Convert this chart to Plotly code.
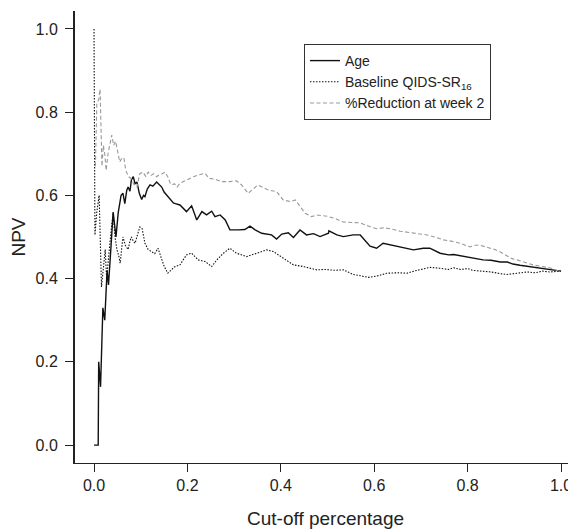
import plotly.graph_objects as go

# Age (solid)
age_x = [0.000, 0.009, 0.010, 0.014, 0.019, 0.023, 0.028, 0.031, 0.036, 0.041, 0.044, 0.047,
         0.052, 0.058, 0.062, 0.066, 0.070, 0.073, 0.077, 0.080, 0.084, 0.088, 0.092, 0.097,
         0.102, 0.106, 0.109, 0.114, 0.120, 0.126, 0.134, 0.140, 0.145, 0.150, 0.156, 0.163,
         0.170, 0.174, 0.184, 0.198, 0.209, 0.220, 0.231, 0.241, 0.252, 0.259, 0.270, 0.281,
         0.291, 0.309, 0.323, 0.334, 0.345, 0.359, 0.380, 0.391, 0.402, 0.416, 0.427, 0.441,
         0.455, 0.470, 0.484, 0.502, 0.503, 0.520, 0.534, 0.555, 0.570, 0.591, 0.605, 0.619,
         0.634, 0.655, 0.670, 0.684, 0.705, 0.719, 0.741, 0.759, 0.770, 0.785, 0.800, 0.815,
         0.833, 0.850, 0.870, 0.885, 0.897, 0.912, 0.925, 0.940, 0.955, 0.970, 0.985, 1.000]
age_y = [0.000, 0.000, 0.200, 0.140, 0.330, 0.300, 0.420, 0.385, 0.470, 0.560, 0.530, 0.500,
         0.560, 0.600, 0.605, 0.580, 0.612, 0.620, 0.610, 0.637, 0.645, 0.628, 0.632, 0.605,
         0.590, 0.600, 0.597, 0.615, 0.625, 0.622, 0.632, 0.626, 0.620, 0.608, 0.600, 0.590,
         0.582, 0.580, 0.577, 0.561, 0.575, 0.541, 0.561, 0.553, 0.562, 0.549, 0.553, 0.541,
         0.517, 0.517, 0.518, 0.526, 0.517, 0.509, 0.505, 0.495, 0.507, 0.510, 0.499, 0.517,
         0.505, 0.508, 0.501, 0.509, 0.515, 0.505, 0.501, 0.505, 0.505, 0.478, 0.473, 0.485,
         0.481, 0.477, 0.473, 0.469, 0.473, 0.473, 0.461, 0.457, 0.458, 0.455, 0.452, 0.450,
         0.445, 0.444, 0.440, 0.440, 0.435, 0.432, 0.430, 0.426, 0.425, 0.422, 0.420, 0.418]

# Baseline QIDS-SR16 (dotted)
qids_x = [0.000, 0.002, 0.006, 0.011, 0.016, 0.020, 0.024, 0.027, 0.031, 0.034, 0.038, 0.041,
          0.045, 0.049, 0.053, 0.056, 0.060, 0.062, 0.067, 0.073, 0.077, 0.080, 0.084, 0.088,
          0.093, 0.098, 0.103, 0.109, 0.116, 0.124, 0.130, 0.137, 0.143, 0.150, 0.158, 0.165,
          0.172, 0.184, 0.198, 0.209, 0.223, 0.238, 0.252, 0.263, 0.277, 0.291, 0.305, 0.327,
          0.348, 0.370, 0.384, 0.405, 0.427, 0.448, 0.462, 0.477, 0.495, 0.515, 0.534, 0.555,
          0.570, 0.587, 0.605, 0.627, 0.650, 0.670, 0.685, 0.698, 0.719, 0.740, 0.759, 0.770,
          0.785, 0.800, 0.810, 0.830, 0.850, 0.870, 0.884, 0.900, 0.915, 0.927, 0.945, 0.960,
          0.975, 0.990, 1.000]
qids_y = [1.000, 0.505, 0.560, 0.600, 0.380, 0.420, 0.470, 0.400, 0.460, 0.485, 0.530, 0.557,
          0.500, 0.470, 0.455, 0.437, 0.480, 0.500, 0.480, 0.470, 0.490, 0.500, 0.490, 0.485,
          0.505, 0.524, 0.520, 0.485, 0.470, 0.464, 0.460, 0.473, 0.455, 0.430, 0.413, 0.420,
          0.428, 0.433, 0.457, 0.461, 0.445, 0.441, 0.429, 0.445, 0.461, 0.473, 0.461, 0.453,
          0.461, 0.469, 0.465, 0.449, 0.433, 0.429, 0.425, 0.421, 0.422, 0.420, 0.421, 0.410,
          0.407, 0.403, 0.406, 0.413, 0.414, 0.413, 0.418, 0.422, 0.427, 0.425, 0.422, 0.426,
          0.422, 0.424, 0.420, 0.418, 0.416, 0.412, 0.410, 0.412, 0.415, 0.416, 0.414, 0.418,
          0.416, 0.417, 0.418]

# %Reduction at week 2 (dashed)
red_x = [0.003, 0.006, 0.010, 0.013, 0.017, 0.020, 0.023, 0.026, 0.030, 0.034, 0.038, 0.042,
         0.046, 0.050, 0.055, 0.060, 0.064, 0.068, 0.074, 0.080, 0.086, 0.092, 0.098, 0.105,
         0.111, 0.116, 0.122, 0.128, 0.134, 0.140, 0.146, 0.152, 0.158, 0.163, 0.167, 0.172,
         0.178, 0.184, 0.198, 0.213, 0.224, 0.238, 0.246, 0.259, 0.273, 0.291, 0.305, 0.316,
         0.330, 0.351, 0.373, 0.391, 0.405, 0.420, 0.431, 0.452, 0.466, 0.477, 0.499, 0.515,
         0.533, 0.550, 0.570, 0.590, 0.605, 0.620, 0.634, 0.655, 0.677, 0.695, 0.713, 0.730,
         0.748, 0.765, 0.784, 0.805, 0.815, 0.827, 0.845, 0.858, 0.870, 0.885, 0.895, 0.906,
         0.920, 0.930, 0.940, 0.955, 0.965, 0.976, 0.990, 1.000]
red_y = [0.670, 0.820, 0.830, 0.855, 0.670, 0.720, 0.700, 0.660, 0.700, 0.720, 0.745, 0.720,
         0.730, 0.710, 0.680, 0.690, 0.690, 0.660, 0.645, 0.640, 0.625, 0.620, 0.652, 0.656,
         0.645, 0.656, 0.648, 0.652, 0.645, 0.650, 0.652, 0.656, 0.645, 0.630, 0.625, 0.628,
         0.620, 0.629, 0.637, 0.645, 0.649, 0.653, 0.641, 0.639, 0.633, 0.633, 0.635, 0.625,
         0.605, 0.625, 0.613, 0.609, 0.589, 0.585, 0.589, 0.557, 0.549, 0.553, 0.550, 0.545,
         0.536, 0.535, 0.534, 0.525, 0.520, 0.522, 0.520, 0.514, 0.510, 0.507, 0.505, 0.500,
         0.493, 0.490, 0.485, 0.476, 0.480, 0.480, 0.474, 0.470, 0.464, 0.455, 0.448, 0.445,
         0.440, 0.436, 0.433, 0.430, 0.428, 0.426, 0.420, 0.418]

tick_vals = [0, 0.2, 0.4, 0.6, 0.8, 1.0]
tick_text = ["0.0", "0.2", "0.4", "0.6", "0.8", "1.0"]

font = "Liberation Sans, Arial, sans-serif"

fig = go.Figure()
fig.add_trace(go.Scatter(x=age_x, y=age_y, mode="lines", name="Age",
                         line=dict(color="#111111", width=1.4)))
fig.add_trace(go.Scatter(x=qids_x, y=qids_y, mode="lines", name="Baseline QIDS-SR<sub>16</sub>",
                         line=dict(color="#111111", width=1.1, dash="1.5px,1.5px")))
fig.add_trace(go.Scatter(x=red_x, y=red_y, mode="lines", name="%Reduction at week 2",
                         line=dict(color="#999999", width=1.1, dash="4px,2.5px")))

# page body has an 8px margin, so the figure is 8px smaller than the window
fig.update_layout(
    width=568, height=521,
    margin=dict(l=67, r=0, t=3, b=66),
    paper_bgcolor="white", plot_bgcolor="white",
    font=dict(family=font, size=16, color="#222222"),
    showlegend=True,
    legend=dict(x=0.457, y=0.927, xanchor="left", yanchor="top",
                bordercolor="#333333", borderwidth=1, bgcolor="white",
                font=dict(size=14), itemwidth=30, tracegroupgap=0,
                entrywidth=200),
    xaxis=dict(range=[-0.0407, 1.032], tickvals=tick_vals, ticktext=tick_text,
               ticks="outside", ticklen=8, tickcolor="#222222",
               tickfont=dict(size=16),
               showline=True, linecolor="#222222", linewidth=1.3,
               showgrid=False, zeroline=False, automargin=False,
               title=dict(text="Cut-off percentage", standoff=19)),
    yaxis=dict(range=[-0.043, 1.043], tickvals=tick_vals, ticktext=tick_text,
               ticks="outside", ticklen=8, tickcolor="#222222",
               tickfont=dict(size=16), ticklabelstandoff=4,
               showline=True, linecolor="#222222", linewidth=2,
               showgrid=False, zeroline=False, automargin=False,
               title=dict(text="NPV", standoff=12)),
)

fig.write_html("out.html")
